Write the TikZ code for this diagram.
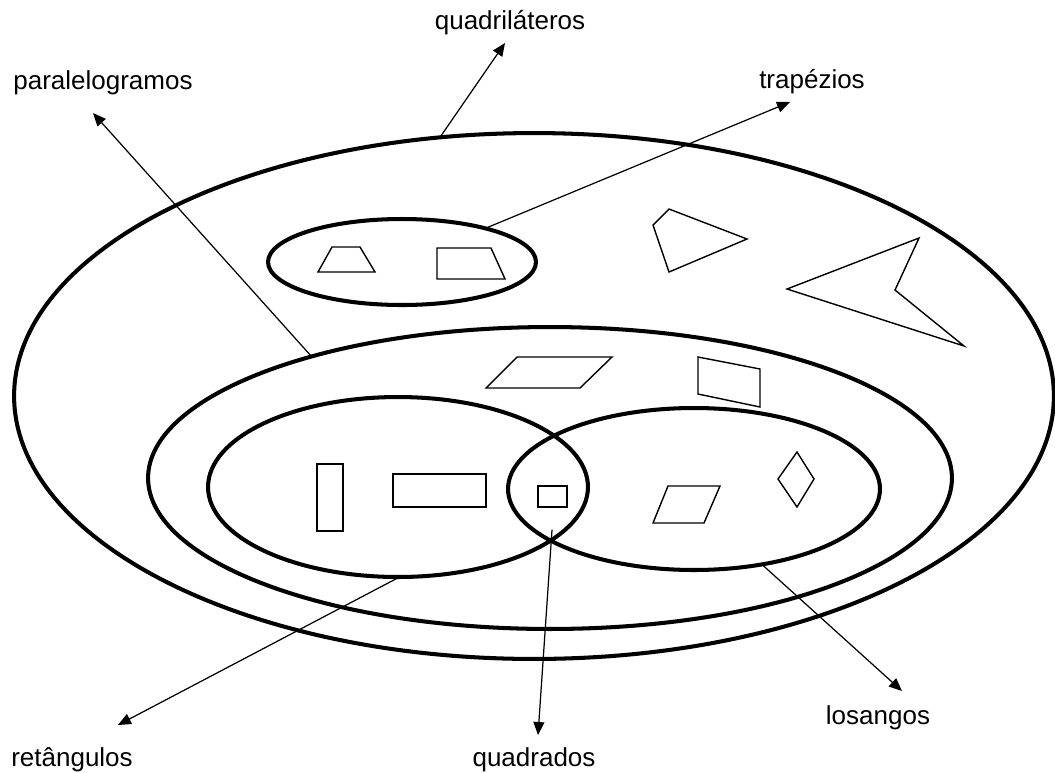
\documentclass[tikz,border=0pt]{standalone}
\usepackage{fontspec}
\setmainfont{Liberation Sans}
\usetikzlibrary{arrows.meta,positioning,shapes.geometric}
\tikzset{
  setnode/.style={ellipse,draw,line width=2.3pt,inner sep=0pt,outer sep=0pt},
  namenode/.style={inner sep=0pt,font=\fontsize{14.8}{17}\selectfont},
  fig/.style={draw,line width=0.8pt,line join=miter},
  pointer/.style={line width=0.7pt,-{Triangle[length=2.6mm,width=2.2mm]}},
  every picture/.style={line cap=round,line join=round}
}

\begin{document}
\begin{tikzpicture}[x={(0.02cm,0)},y={(0,-0.02cm)}]
  \useasboundingbox (0,0) rectangle (1055,772);
  % conjuntos
  \node[setnode,minimum width=20.8cm,minimum height=10.52cm] (quad) at (534,396) {};
  \node[setnode,minimum width=16.08cm,minimum height=6.04cm] (paral) at (550,478) {};
  \node[setnode,minimum width=5.36cm,minimum height=1.72cm] (trap) at (402,262) {};
  \node[setnode,minimum width=7.6cm,minimum height=3.6cm] (ret) at (398,487) {};
  \node[setnode,minimum width=7.44cm,minimum height=3.24cm] (los) at (694,489) {};

  % figuras
  \draw[fig] (318,272) -- (332,247) -- (360,247) -- (375,272) -- cycle;
  \draw[fig] (437,248) -- (491,248) -- (505,279) -- (437,279) -- cycle;
  \draw[fig] (653,225) -- (669,209) -- (747,239) -- (669,272) -- cycle;
  \draw[fig] (787,289) -- (919,238) -- (895,290) -- (964,346) -- cycle;
  \draw[fig] (486,388) -- (517,357) -- (612,357) -- (580,388) -- cycle;
  \draw[fig] (698,357) -- (760,369) -- (760,407) -- (698,394) -- cycle;
  \draw[fig] (317,464) rectangle (343,531);
  \draw[fig] (393,474) rectangle (486,507);
  \draw[fig] (538,486) rectangle (567,507);
  \draw[fig] (653,523) -- (668,486) -- (720,486) -- (704,523) -- cycle;
  \draw[fig] (797,452) -- (814,479) -- (797,507) -- (778,479) -- cycle;

  % nomes
  \node[namenode] (nquad) at (510,23) {quadriláteros};
  \node[namenode] (nparal) at (103,83) {paralelogramos};
  \node[namenode] (ntrap) at (812,82) {trapézios};
  \node[namenode] (nret) at (72,760) {retângulos};
  \node[namenode] (nqd) at (534,760) {quadrados};
  \node[namenode] (nlos) at (878,718) {losangos};

  \coordinate (tquad) at (505,43);
  \coordinate (tparal) at (93,113);
  \coordinate (ttrap) at (790,102);
  \coordinate (tret) at (118,725);
  \coordinate (tqd) at (538,735);
  \coordinate (tlos) at (902,691);
  \coordinate (qd) at (552,530);

  \draw[pointer] (quad.110) -- (tquad);
  \draw[pointer] (paral.153) -- (tparal);
  \draw[pointer] (trap.22) -- (ttrap);
  \draw[pointer] (ret.271) -- (tret);
  \draw[pointer] (qd) -- (tqd);
  \draw[pointer] (los.312) -- (tlos);
\end{tikzpicture}
\end{document}
